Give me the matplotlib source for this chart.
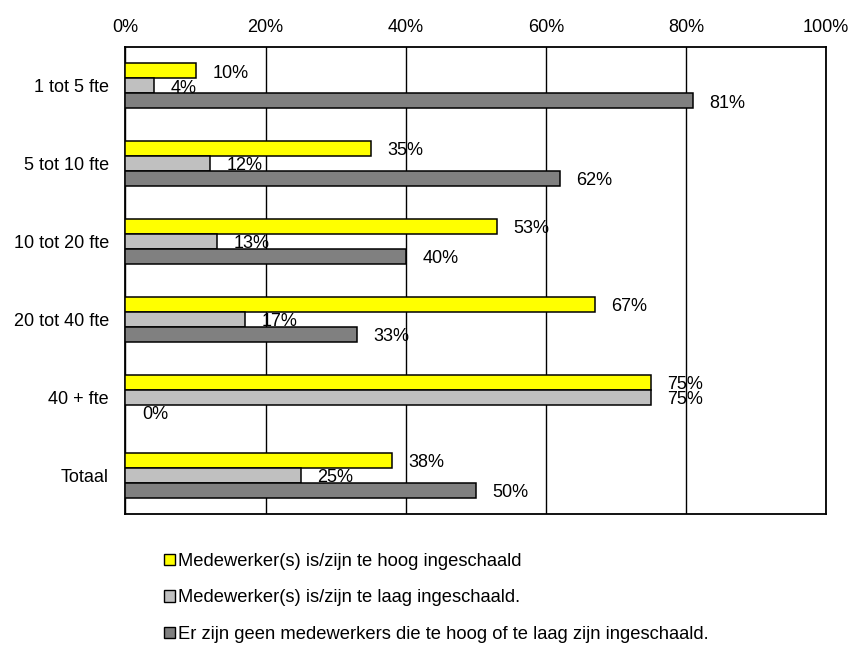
"""Horizontal grouped bar chart: inschaling van medewerkers per bedrijfsgrootte."""

import matplotlib
matplotlib.use("Agg")
import matplotlib.pyplot as plt
import numpy as np
from matplotlib.patches import Patch


categories = ["1 tot 5 fte", "5 tot 10 fte", "10 tot 20 fte", "20 tot 40 fte", "40 + fte", "Totaal"]
series_labels = [
    "Medewerker(s) is/zijn te hoog ingeschaald",
    "Medewerker(s) is/zijn te laag ingeschaald.",
    "Er zijn geen medewerkers die te hoog of te laag zijn ingeschaald.",
]
te_hoog = [10, 35, 53, 67, 75, 38]
te_laag = [4, 12, 13, 17, 75, 25]
geen = [81, 62, 40, 33, 0, 50]
x_ticks = [0, 20, 40, 60, 80, 100]

COLORS = ["#FFFF00", "#C0C0C0", "#808080"]
BAR_HEIGHT = 0.193

plt.rcParams["font.family"] = ["Liberation Sans", "DejaVu Sans"]


def draw_chart(output_path: str = "out.png") -> None:
    fig = plt.figure(figsize=(8.52, 6.46), dpi=100)
    ax = fig.add_axes([0.1473, 0.2043, 0.8222, 0.7229])

    y = np.arange(len(categories))
    for i, values in enumerate([te_hoog, te_laag, geen]):
        offset = (i - 1) * BAR_HEIGHT
        ax.barh(y + offset, values, height=BAR_HEIGHT, color=COLORS[i],
                edgecolor="black", linewidth=1.1, zorder=3 + i)
        # value labels sit under the next series' bars, so they get clipped the same way
        for yy, v in zip(y + offset, values):
            ax.annotate(f"{v}%", xy=(v, yy), xytext=(12, -1.5),
                        textcoords="offset points", ha="left", va="center",
                        fontsize=13, zorder=3.5 + i, annotation_clip=False)

    ax.set_xlim(0, 100)
    ax.set_ylim(len(categories) - 0.5, -0.5)
    ax.set_xticks(x_ticks)
    ax.set_xticklabels([f"{t}%" for t in x_ticks])
    ax.set_yticks(y)
    ax.set_yticklabels(categories)
    ax.xaxis.tick_top()
    ax.tick_params(axis="x", length=0, pad=8, labelsize=13)
    ax.tick_params(axis="y", length=0, pad=12, labelsize=13)

    ax.grid(axis="x", color="black", linewidth=1.0)
    ax.set_axisbelow(True)
    for spine in ax.spines.values():
        spine.set_linewidth(1.3)
        spine.set_color("black")

    handles = [Patch(facecolor=c, edgecolor="black", linewidth=1.0) for c in COLORS]
    fig.legend(handles, series_labels, loc="upper left",
               bbox_to_anchor=(164 / 852, 1 - 553 / 646), frameon=False,
               fontsize=13.2, handlelength=0.6, handleheight=0.6,
               handletextpad=0.16, labelspacing=1.06, borderpad=0, borderaxespad=0)

    fig.savefig(output_path, dpi=100)
    plt.close(fig)


if __name__ == "__main__":
    draw_chart()
